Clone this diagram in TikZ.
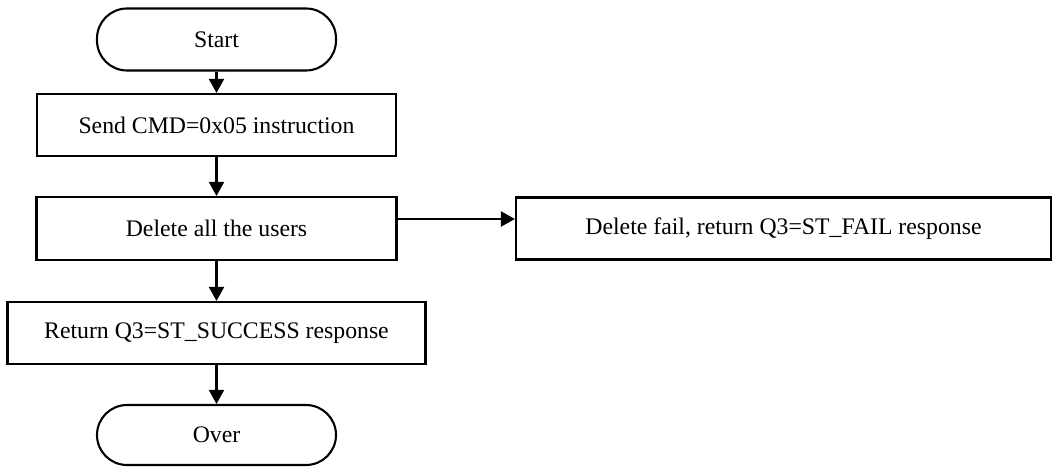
\documentclass[tikz,border=0pt]{standalone}
\usepackage{fontspec}
\setmainfont{Liberation Serif}
\usetikzlibrary{arrows.meta}
\begin{document}
\begin{tikzpicture}[x=1pt,y=1pt,
  every node/.style={font=\fontsize{23.75}{28}\selectfont, inner sep=0pt},
  box/.style={draw, line width=2.1pt, rectangle},
  term/.style={draw, line width=2.1pt, rectangle, rounded corners=30pt, minimum width=239pt, minimum height=62pt},
  arr/.style={line width=2.1pt, -{Triangle[length=14pt,width=15pt]}}]
\useasboundingbox (0,0) rectangle (1054,468);
\node[term] (start) at (216.5,428.5) {Start};
\node[box, minimum width=359pt, minimum height=62pt] (b1) at (216.5,343) {Send CMD=0x05 instruction};
\node[box, minimum width=360pt, minimum height=63pt] (b2) at (216.5,239.5) {Delete all the users};
\node[box, minimum width=535pt, minimum height=62pt] (b3) at (783.5,239.5) {Delete fail, return Q3=ST\_FAIL response};
\node[box, minimum width=418pt, minimum height=62pt] (b4) at (216.5,135) {Return Q3=ST\_SUCCESS response};
\node[term, minimum height=60pt] (over) at (216.5,33) {Over};
\draw[arr] (start.south) -- (b1.north);
\draw[arr] (b1.south) -- (b2.north);
\draw[arr] ([yshift=9.5pt]b2.east) -- ([yshift=9.5pt]b3.west);
\draw[arr] (b2.south) -- (b4.north);
\draw[arr] (b4.south) -- (over.north);
\end{tikzpicture}
\end{document}
